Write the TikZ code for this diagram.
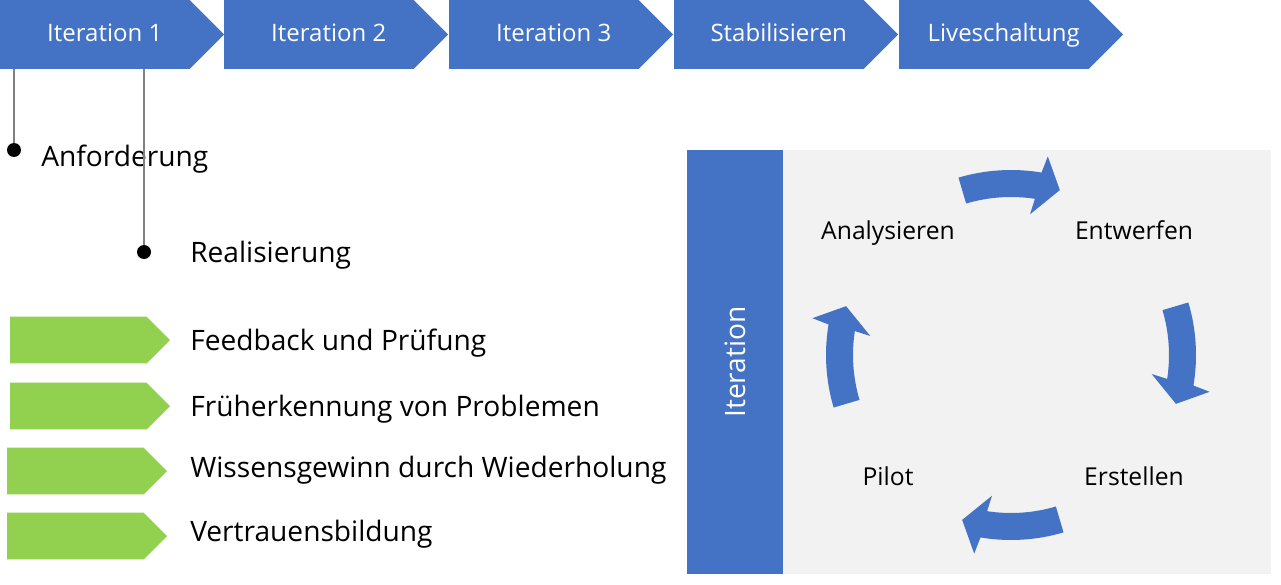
\documentclass[tikz,border=0pt]{standalone}
\usepackage{fontspec}
\setmainfont{Open Sans}
\usetikzlibrary{shapes.symbols}
\definecolor{stepblue}{HTML}{4472C4}
\definecolor{stepgreen}{HTML}{92D050}
\definecolor{panelgray}{HTML}{F2F2F2}
\tikzset{
  phasebox/.style={signal, signal to=east, signal from=nowhere, signal pointer angle=90,
    fill=stepblue, text=white, font=\fontsize{18pt}{20pt}\selectfont, inner sep=0, outer sep=0,
    minimum width=168pt, minimum height=51.75pt, anchor=west, text height=14.5pt, text depth=4pt,
    execute at begin node=\hspace*{15pt}},
  benefitbox/.style={signal, signal to=east, signal from=nowhere, signal pointer angle=90,
    fill=stepgreen, inner sep=0, outer sep=0,
    minimum width=120pt, minimum height=34.9pt, anchor=west},
  listtext/.style={anchor=base west, inner sep=0, font=\fontsize{21.1pt}{24pt}\selectfont},
  cycletext/.style={anchor=base, inner sep=0, font=\fontsize{18.5pt}{22pt}\selectfont},
  stemdot/.style={circle, fill=black, inner sep=0, minimum size=10.5pt},
  stem/.style={draw=black!50, line width=1.1pt},
  cyclearrow/.pic={
    \fill[stepblue, y=0.75pt] (106.5:185) arc[start angle=106.5, end angle=80.5, radius=185]
      -- (79.5:202) -- (73.5:172) -- (82.3:142) -- (81.3:158)
      arc[start angle=81.3, end angle=106.5, radius=158] -- cycle;
  },
}

\begin{document}
\begin{tikzpicture}[x=0.75pt, y=-0.75pt]
\useasboundingbox (0,0) rectangle (1281,585);

% Phases
\path
(0,34.5) node[phasebox] (iter1) {Iteration 1}
(224,34.5) node[phasebox] (iter2) {Iteration 2}
(449,34.5) node[phasebox] (iter3) {Iteration 3}
(674,34.5) node[phasebox] (stab) {Stabilisieren}
(899,34.5) node[phasebox] (live) {Liveschaltung}
;

% Stems
\path
(14,150) node[stemdot] (dotreq) {}
(144,252) node[stemdot] (dotreal) {}
(14,69) coordinate (stemreq)
(144,69) coordinate (stemreal)
(41,166) node[listtext] (req) {Anforderung}
(190,262) node[listtext] (real) {Realisierung}
;
\draw[stem]
(stemreq) -- (dotreq)
(stemreal) -- (dotreal)
;

% Benefits
\path
(10,340) node[benefitbox] (boxfeed) {}
(10,406) node[benefitbox] (boxearly) {}
(7,471) node[benefitbox] (boxknow) {}
(7,536) node[benefitbox] (boxtrust) {}
(190,350) node[listtext] (feed) {Feedback und Prüfung}
(190,416) node[listtext] (early) {Früherkennung von Problemen}
(190,477) node[listtext] (know) {Wissensgewinn durch Wiederholung}
(190,541) node[listtext] (trust) {Vertrauensbildung}
;

% Iteration panel
\fill[panelgray] (687,150) rectangle (1271,574);
\fill[stepblue] (687,150) rectangle (783,574);
\path (735,362) node[rotate=90, text=white, font=\fontsize{21.1pt}{24pt}\selectfont] (panel) {Iteration};

\path
(888,239) node[cycletext] (ana) {Analysieren}
(1134,239) node[cycletext] (ent) {Entwerfen}
(1134,485) node[cycletext] (ers) {Erstellen}
(888,485) node[cycletext] (pil) {Pilot}
;
\foreach \turn in {0,-90,-180,-270}
  \pic[rotate=\turn] at (1011,355) {cyclearrow};

\end{tikzpicture}
\end{document}
